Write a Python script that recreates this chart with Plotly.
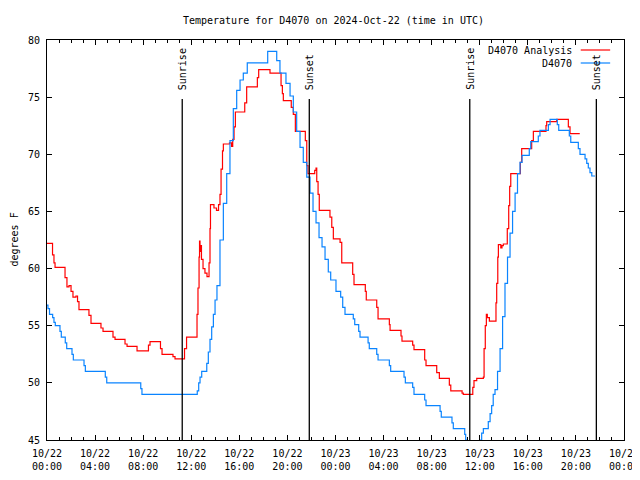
import plotly.graph_objects as go

# Hours since 2024-10-22 00:00 UTC
analysis_hours = [0.00, 0.46, 0.58, 0.67, 1.50, 1.66, 1.83, 2.00, 2.16, 2.41, 2.54, 2.66, 3.49, 3.66,
                  4.49, 4.66, 5.49, 5.66, 6.49, 6.66, 7.49, 8.44, 8.57, 9.44, 9.57, 10.48, 10.65,
                  11.44, 11.61, 12.48, 12.56, 12.65, 12.69, 12.73, 12.77, 12.85, 12.98, 13.14, 13.31,
                  13.48, 13.56, 13.60, 13.89, 14.10, 14.27, 14.39, 14.48, 14.60, 14.67, 15.18, 15.35,
                  15.45, 15.56, 15.67, 16.45, 16.61, 17.50, 17.61, 18.55, 19.47, 19.58, 19.66, 20.32,
                  20.49, 20.66, 21.49, 21.61, 21.71, 22.27, 22.38, 22.44, 22.55, 22.65, 23.54, 23.69,
                  23.82, 24.38, 24.52, 25.43, 25.54, 26.48, 26.56, 27.43, 27.54, 28.48, 28.54, 29.45,
                  29.53, 30.42, 30.53, 31.42, 31.53, 32.42, 32.64, 33.47, 33.59, 34.53, 34.63, 35.42,
                  35.52, 35.75, 36.30, 36.36, 36.46, 36.55, 36.63, 36.80, 37.35, 37.41, 37.50, 37.55,
                  37.75, 37.85, 37.96, 38.29, 38.41, 38.49, 38.58, 39.38, 39.49, 40.32, 40.46, 41.51,
                  41.57, 42.40, 43.37, 43.51, 44.32]
analysis_temps = [62.2, 61.2, 60.5, 60.1, 59.2, 58.4, 58.5, 58.0, 57.5, 57.6, 57.1, 56.4, 55.9, 55.2,
                  54.8, 54.5, 54.0, 53.8, 53.4, 53.2, 52.8, 53.3, 53.6, 53.0, 52.5, 52.3, 52.1,
                  53.0, 54.0, 56.0, 58.3, 61.0, 62.4, 61.5, 62.0, 60.8, 60.0, 59.6, 59.3,
                  60.5, 63.5, 65.6, 65.3, 65.1, 65.6, 66.5, 68.7, 70.3, 70.9, 71.0, 70.7,
                  71.3, 72.4, 73.7, 74.5, 75.9, 76.7, 77.4, 77.1, 76.0, 75.3, 74.7, 74.1,
                  73.5, 72.0, 71.2, 69.0, 68.3, 68.6, 68.8, 67.6, 66.5, 65.1, 64.5, 63.6,
                  62.6, 62.3, 60.5, 59.5, 58.6, 58.0, 57.25, 56.6, 55.6, 55.1, 54.6, 54.1,
                  53.65, 53.3, 52.9, 52.0, 51.5, 50.9, 50.4, 49.8, 49.3, 49.1, 49.0, 49.6,
                  50.2, 50.4, 50.5, 53.0, 55.0, 56.0, 55.7, 55.4, 57.0, 58.7, 61.0, 62.1,
                  61.8, 62.0, 62.15, 63.5, 65.5, 67.2, 68.3, 69.3, 70.5, 71.2, 72.0, 72.5,
                  72.85, 73.05, 72.4, 71.8, 71.8]

obs_hours = [0.00, 0.08, 0.21, 0.47, 0.58, 0.69, 1.08, 1.19, 1.52, 1.64, 2.08, 2.19, 3.08, 3.19,
             4.85, 4.97, 7.80, 7.90, 12.50, 12.62, 12.73, 12.87, 13.29, 13.42, 13.56, 13.70, 13.84,
             13.98, 14.14, 14.39, 14.67, 14.95, 15.22, 15.50, 15.78, 16.06, 16.33, 16.66, 18.36,
             19.11, 19.38, 19.88, 20.22, 20.49, 20.77, 21.05, 21.32, 21.61, 21.88, 22.13, 22.38,
             22.63, 22.88, 23.13, 23.40, 23.60, 24.04, 24.43, 24.60, 24.79, 25.48, 25.60, 25.93,
             26.04, 26.71, 26.81, 27.43, 27.54, 28.48, 28.59, 29.70, 29.81, 30.42, 30.53, 31.42,
             31.53, 32.70, 32.80, 33.69, 33.80, 34.75, 34.83, 34.94, 35.19, 35.77, 36.02, 36.16,
             36.30, 36.71, 36.86, 36.99, 37.12, 37.27, 37.48, 37.69, 37.90, 38.10, 38.31, 38.52,
             38.73, 38.94, 39.14, 39.35, 39.52, 40.12, 40.24, 40.87, 41.01, 41.71, 41.85, 42.45,
             42.57, 43.45, 43.57, 44.20, 44.34, 44.76, 44.90, 45.03, 45.17, 45.32, 45.59]
obs_temps = [56.8, 56.5, 56.0, 55.7, 55.3, 55.0, 54.5, 54.0, 53.5, 53.0, 52.5, 52.0, 51.5, 51.0,
             50.5, 50.0, 49.5, 49.0, 49.3, 50.0, 50.5, 51.0, 51.7, 52.7, 53.8, 54.9, 56.0,
             57.25, 58.5, 62.5, 65.7, 68.3, 71.2, 74.0, 75.6, 76.5, 77.1, 78.0, 79.0,
             78.2, 77.1, 76.2, 75.1, 73.7, 72.0, 70.6, 69.3, 68.0, 66.6, 65.0, 64.0,
             62.7, 61.9, 60.8, 59.7, 59.0, 58.0, 57.5, 56.6, 56.0, 55.6, 55.1, 54.5,
             54.0, 53.5, 53.0, 52.5, 52.0, 51.5, 51.0, 50.5, 50.0, 49.6, 49.0, 48.5,
             48.0, 47.5, 47.0, 46.5, 46.0, 45.5, 45.0, 44.5, 44.0, 44.5, 45.0, 45.6,
             46.0, 46.6, 47.3, 48.0, 49.0, 49.4, 51.0, 53.0, 55.8, 58.7, 61.0, 63.1,
             65.0, 66.6, 68.3, 69.3, 69.9, 70.5, 71.1, 71.6, 72.1, 72.6, 73.05, 72.6,
             72.1, 71.6, 71.05, 70.5, 70.0, 69.6, 69.2, 68.8, 68.4, 68.1, 68.1]

sun_labels = ["Sunrise", "Sunset", "Sunrise", "Sunset"]
sun_hours = [11.25, 21.82, 35.17, 45.70]

tick_hours = [0, 4, 8, 12, 16, 20, 24, 28, 32, 36, 40, 44, 48]
tick_text = ["10/22<br>00:00", "10/22<br>04:00", "10/22<br>08:00", "10/22<br>12:00",
             "10/22<br>16:00", "10/22<br>20:00", "10/23<br>00:00", "10/23<br>04:00",
             "10/23<br>08:00", "10/23<br>12:00", "10/23<br>16:00", "10/23<br>20:00",
             "10/24<br>00:00"]

series_names = ["D4070 Analysis", "D4070"]
series_colors = ["#ff0000", "#0a84ff"]

FONT = "DejaVu Sans Mono"

fig = go.Figure()
fig.add_trace(go.Scatter(x=analysis_hours, y=analysis_temps, mode="lines", name=series_names[0],
                         line=dict(color=series_colors[0], width=1.2, shape="hv"), showlegend=False))
fig.add_trace(go.Scatter(x=obs_hours, y=obs_temps, mode="lines", name=series_names[1],
                         line=dict(color=series_colors[1], width=1.2, shape="hv"), showlegend=False))

for lab, h in zip(sun_labels, sun_hours):
    fig.add_shape(type="line", x0=h, x1=h, xref="x", y0=0, y1=0.8525, yref="paper",
                  line=dict(color="black", width=1.3))
    fig.add_annotation(x=h, xref="x", y=0.87, yref="paper", text=lab, textangle=-90,
                       showarrow=False, xanchor="center", yanchor="bottom",
                       font=dict(family=FONT, size=10, color="black"))

# gnuplot-style legend (text left of sample)
leg_y = [0.975, 0.9425]
for name, color, yy in zip(series_names, series_colors, leg_y):
    fig.add_annotation(x=0.914, xref="paper", y=yy, yref="paper", text=name, showarrow=False,
                       xanchor="right", yanchor="middle", font=dict(family=FONT, size=10, color="black"))
    fig.add_shape(type="line", x0=0.925, x1=0.976, xref="paper", y0=yy, y1=yy, yref="paper",
                  line=dict(color=color, width=1.2))

fig.add_annotation(x=-0.058, xref="paper", y=0.5, yref="paper", text="degrees F", textangle=-90,
                   showarrow=False, xanchor="center", yanchor="middle",
                   font=dict(family=FONT, size=10, color="black"))

# page body has an 8px margin: figure sized so that the page does not scroll
fig.update_layout(
    width=632, height=464,
    margin=dict(l=39, r=16, t=32, b=32, autoexpand=False),
    paper_bgcolor="white", plot_bgcolor="white",
    font=dict(family=FONT, size=10, color="black"),
    title=dict(text="Temperature for D4070 on 2024-Oct-22 (time in UTC)", x=0.515, xanchor="center",
               y=1 - 12 / 464, yanchor="middle", yref="container", font=dict(family=FONT, size=10)),
    xaxis=dict(range=[0, 48], tickvals=tick_hours, ticktext=tick_text, ticks="inside", ticklen=5,
               tickcolor="black", showline=True, linecolor="black", linewidth=1, mirror="ticks",
               showgrid=False, zeroline=False, ticklabelstandoff=4, ticklabeloverflow="allow",
               minor=dict(dtick=1, tick0=0, ticks="inside", ticklen=3, tickcolor="black", showgrid=False)),
    yaxis=dict(range=[45, 80], dtick=5, tick0=45, ticks="inside", ticklen=5, tickcolor="black",
               showline=True, linecolor="black", linewidth=1, mirror="ticks", showgrid=False,
               zeroline=False, ticklabelstandoff=4),
)

fig.write_html("out.html")
